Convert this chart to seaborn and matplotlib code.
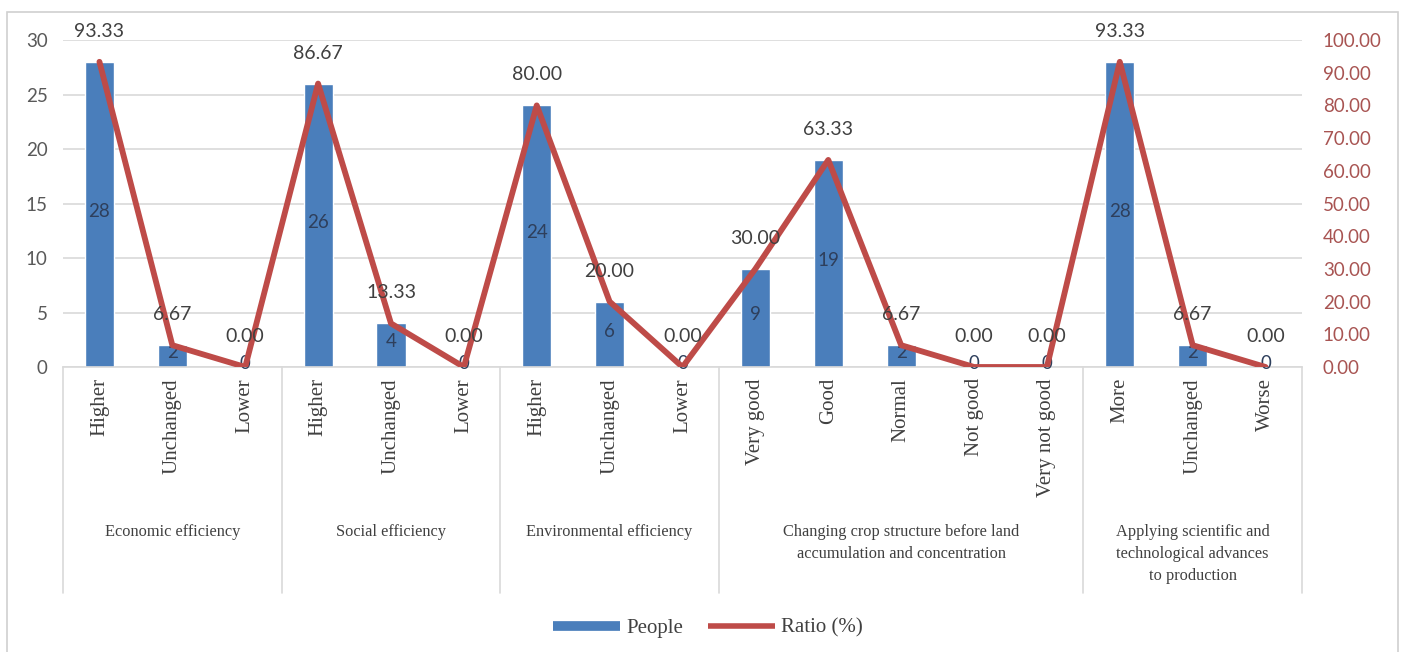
import numpy as np
import pandas as pd
import matplotlib
matplotlib.use("Agg")
import matplotlib.pyplot as plt
from matplotlib.lines import Line2D
from matplotlib.patches import Rectangle
import matplotlib.transforms as mtransforms
import seaborn as sns

# ---- data -------------------------------------------------------------
groups = [
    "Economic efficiency",
    "Social efficiency",
    "Environmental efficiency",
    "Changing crop structure before land\naccumulation and concentration",
    "Applying scientific and\ntechnological advances\nto production",
]
options = [
    ["Higher", "Unchanged", "Lower"],
    ["Higher", "Unchanged", "Lower"],
    ["Higher", "Unchanged", "Lower"],
    ["Very good", "Good", "Normal", "Not good", "Very not good"],
    ["More", "Unchanged", "Worse"],
]
people = [28, 2, 0, 26, 4, 0, 24, 6, 0, 9, 19, 2, 0, 0, 28, 2, 0]
ratio = [93.33, 6.67, 0.00, 86.67, 13.33, 0.00, 80.00, 20.00, 0.00,
         30.00, 63.33, 6.67, 0.00, 0.00, 93.33, 6.67, 0.00]
left_ticks = [0, 5, 10, 15, 20, 25, 30]
right_ticks = [0, 10, 20, 30, 40, 50, 60, 70, 80, 90, 100]

# ---- table ------------------------------------------------------------
rows = []
for g, opts in zip(groups, options):
    for o in opts:
        rows.append((g, o))
df = pd.DataFrame(rows, columns=["group", "option"])
df["pos"] = np.arange(len(df))
df["People"] = people
df["Ratio"] = ratio

# ---- style ------------------------------------------------------------
sns.set_theme(style="white")
SERIF = ["Liberation Serif", "DejaVu Serif"]
NUM = ["Lato", "DejaVu Sans"]
plt.rcParams["font.family"] = SERIF

BAR = "#4A7EBB"
LINE = "#BE4B48"
GRID = "#D9D9D9"
TXT = "#404040"

W, H = 1405, 652
fig = plt.figure(figsize=(W / 100, H / 100), dpi=100)
fig.patch.set_facecolor("white")

x0, x1, ytop, ybot = 63, 1302, 40, 367
ax = fig.add_axes([x0 / W, (H - ybot) / H, (x1 - x0) / W, (ybot - ytop) / H])

sns.barplot(data=df, x="pos", y="People", native_scale=True, width=0.4,
            color=BAR, saturation=1, ax=ax, zorder=2, errorbar=None)

n = len(df)
ax.set_xlim(-0.5, n - 0.5)
ax.set_ylim(0, 30)
ax.set_yticks(left_ticks)
ax.set_yticklabels([str(t) for t in left_ticks], family=NUM, fontsize=13.5,
                   color="#595959")
ax.yaxis.grid(True, color=GRID, lw=1.2, zorder=0)
ax.set_axisbelow(True)
for s in ["left", "right", "top"]:
    ax.spines[s].set_visible(False)
ax.spines["bottom"].set_color(GRID)
ax.spines["bottom"].set_linewidth(1.2)
ax.tick_params(axis="y", length=0, pad=11)
ax.tick_params(axis="x", length=0, pad=8)
ax.set_xticks(df["pos"])
ax.set_xticklabels(df["option"], rotation=90, ha="center", va="top",
                   fontsize=15, color=TXT)
ax.set_xlabel("")
ax.set_ylabel("")

# bar value labels at bar centres
for p, v in zip(df["pos"], df["People"]):
    ax.text(p, v / 2 + 0.3, f"{v}", ha="center", va="center",
            family=NUM, fontsize=13.5, color="#2E3F5C", zorder=3)

# group separators and group labels beneath the option labels
trans = mtransforms.blended_transform_factory(ax.transData, ax.transAxes)
sep_bottom = -(593 - ybot) / (ybot - ytop)
edges = [-0.5]
for opts in options:
    edges.append(edges[-1] + len(opts))
for e in edges:
    ax.plot([e, e], [0, sep_bottom], transform=trans, color=GRID, lw=1.2,
            clip_on=False)
label_top = -(524 - ybot) / (ybot - ytop)
for g, a, b in zip(groups, edges[:-1], edges[1:]):
    ax.text((a + b) / 2, label_top, g, transform=trans, ha="center",
            va="top", fontsize=11.8, color=TXT, linespacing=1.5)

# ratio line on the secondary axis
ax2 = ax.twinx()
sns.lineplot(data=df, x="pos", y="Ratio", ax=ax2, color=LINE, lw=4.2,
             sort=False, zorder=4)
ax2.set_ylim(0, 100)
ax2.set_yticks(right_ticks)
ax2.set_yticklabels([f"{t:.2f}" for t in right_ticks], family=NUM,
                    fontsize=13.5, color="#A85452")
ax2.tick_params(axis="y", length=0, pad=15)
ax2.set_xlim(-0.5, n - 0.5)
ax2.set_ylabel("")
ax2.set_xlabel("")
for s in ax2.spines.values():
    s.set_visible(False)

for p, r in zip(df["pos"], df["Ratio"]):
    ax2.annotate(f"{r:.2f}", (p, r), xytext=(0, 22), textcoords="offset points",
                 ha="center", va="center", family=NUM, fontsize=14,
                 color=TXT, zorder=5, annotation_clip=False)

# legend
handles = [Line2D([], [], color=BAR, lw=7, solid_capstyle="butt"),
           Line2D([], [], color=LINE, lw=4, solid_capstyle="butt")]
fig.legend(handles, ["People", "Ratio (%)"], loc="center",
           bbox_to_anchor=(708 / W, 1 - 628 / H), ncol=2, frameon=False,
           fontsize=15, handlelength=3.2, handletextpad=0.3,
           columnspacing=1.2, labelcolor=TXT)

# chart frame
fig.patches.append(Rectangle((7 / W, -0.02), (1398 - 7) / W, (H - 12) / H + 0.02,
                             transform=fig.transFigure, fill=False,
                             edgecolor="#D0D0D0", lw=1.2))

fig.savefig("out.png", dpi=100)
